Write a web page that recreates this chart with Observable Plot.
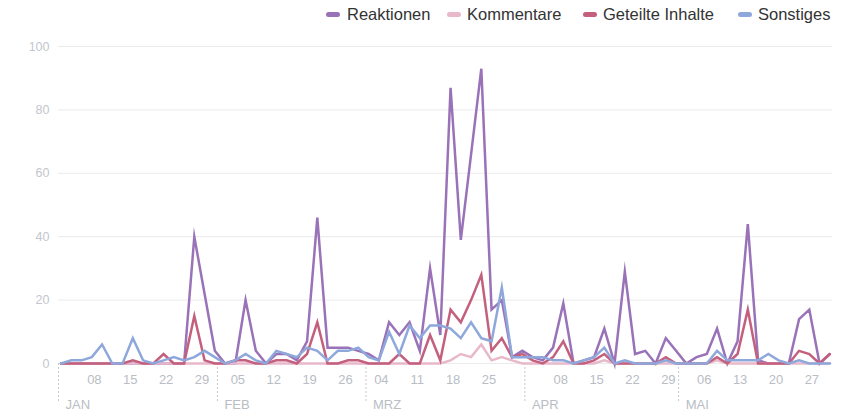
<!DOCTYPE html>
<html><head><meta charset="utf-8">
<script src="https://cdn.jsdelivr.net/npm/d3@7"></script>
<script src="https://cdn.jsdelivr.net/npm/@observablehq/plot@0.6"></script>
<style>
body{margin:0;background:#fff;font-family:"Liberation Sans",Arial,sans-serif;}
#legend{height:30px;width:843px;position:relative;}
.sw{position:absolute;top:12px;width:14px;height:5px;border-radius:3px;}
.lt{position:absolute;top:5px;font-size:16.5px;line-height:19px;color:#333;white-space:nowrap;}
#chart svg{display:block;}
</style></head><body>
<div id="legend"></div>
<div id="chart"></div>
<script>
const seriesNames = ["Reaktionen","Kommentare","Geteilte Inhalte","Sonstiges"];
const seriesColors = ["#9a72b8","#e8b8cb","#c3607d","#8ea8dc"];
// values every second day, starting 1 Jan 2020
const reaktionen = [0,0,0,0,0,0,0,0,0,0,0,0,0,40,22,4,0,0,20,4,0,3,3,1,7,46,5,5,5,4,3,1,13,9,13,4,30,9,87,39,66,93,17,20,2,4,2,1,5,19,0,1,2,11,0,29,3,4,0,8,4,0,2,3,11,0,7,44,1,0,0,0,14,17,0,3];
const kommentare = [0,0,0,0,0,0,0,0,0,0,0,0,0,0,0,0,0,0,0,0,0,0,0,0,0,0,0,0,0,0,0,0,0,0,0,0,0,0,1,3,2,6,1,2,1,0,0,0,0,0,0,0,0,1,0,0,0,0,0,0,0,0,0,0,1,0,0,0,0,0,0,0,0,0,0,0];
const geteilte = [0,0,0,0,0,0,0,1,0,0,3,0,0,15,1,0,0,1,1,0,0,1,1,0,3,13,0,0,1,1,0,0,0,3,0,0,9,1,17,13,20,28,4,8,2,3,1,0,2,7,0,0,1,3,0,0,0,0,0,2,0,0,0,0,2,0,3,17,0,0,0,0,4,3,0,3];
const sonstiges = [0,1,1,2,6,0,0,8,1,0,1,2,1,2,4,2,0,1,3,1,0,4,3,2,5,4,1,4,4,5,2,1,10,3,12,8,12,12,11,8,13,8,7,24,2,2,2,2,1,1,0,1,2,5,0,1,0,0,0,1,0,0,0,0,4,1,1,1,1,3,1,0,1,0,0,0];
const yTicks = [0,20,40,60,80,100];
const dayTicks = ["2020-01-08","2020-01-15","2020-01-22","2020-01-29","2020-02-05","2020-02-12","2020-02-19","2020-02-26","2020-03-04","2020-03-11","2020-03-18","2020-03-25","2020-04-08","2020-04-15","2020-04-22","2020-04-29","2020-05-06","2020-05-13","2020-05-20","2020-05-27"];
const monthStarts = ["2020-01-01","2020-02-01","2020-03-01","2020-04-01","2020-05-01"];
const monthLabels = ["JAN","FEB","MRZ","APR","MAI"];
const legendSwatchX = [326, 447, 583, 738];
const legendTextX = [347, 467, 603, 758];

const seriesValues = [reaktionen, kommentare, geteilte, sonstiges];
const rows = [];
seriesValues.forEach((vals, s) => vals.forEach((v, k) => rows.push({series: seriesNames[s], date: new Date(Date.UTC(2020, 0, 1 + 2 * k, 12)), value: v})));
const utc = s => new Date(s + "T00:00:00Z");
const grid = yTicks.map(y => ({y, x1: utc("2020-01-01"), x2: utc("2020-05-31")}));
const months = monthStarts.map((m, i) => ({date: utc(m), label: monthLabels[i]}));
const ticks = dayTicks.map(d => ({date: utc(d), label: d.slice(8)}));

const lg = document.getElementById("legend");
seriesNames.forEach((n, i) => {
  const sw = document.createElement("div"); sw.className = "sw";
  sw.style.background = seriesColors[i]; sw.style.left = legendSwatchX[i] + "px";
  const t = document.createElement("div"); t.className = "lt"; t.textContent = n;
  t.style.left = legendTextX[i] + "px";
  lg.appendChild(sw); lg.appendChild(t);
});

const chart = Plot.plot({
  width: 843, height: 386,
  marginLeft: 58, marginRight: 6, marginTop: 16, marginBottom: 53,
  style: {fontFamily: "'Liberation Sans', Arial, sans-serif", background: "#fff"},
  x: {type: "utc", domain: [utc("2020-01-01"), utc("2020-06-01")], axis: null},
  y: {domain: [0, 100], axis: null},
  color: {domain: seriesNames, range: seriesColors},
  marks: [
    Plot.ruleY(grid, {y: "y", x1: "x1", x2: "x2", stroke: "#ebebeb", strokeWidth: 1}),
    Plot.text(yTicks, {y: d => d, frameAnchor: "left", dx: -9, textAnchor: "end", fill: "#c2c6ce", fontSize: 12.5, text: d => String(d)}),
    Plot.ruleX(months, {x: "date", y1: 0, y2: -12, stroke: "#c8c8c8", strokeDasharray: "2,2", strokeWidth: 1}),
    Plot.text(ticks, {x: "date", frameAnchor: "bottom", dy: 20, text: "label", fill: "#b9bdc5", fontSize: 13}),
    Plot.text(months, {x: "date", frameAnchor: "bottom", dy: 45, dx: 7, textAnchor: "start", text: "label", fill: "#b9bdc5", fontSize: 13}),
    Plot.line(rows, {x: "date", y: "value", z: "series", stroke: "series", strokeWidth: 2.5, strokeLinejoin: "miter", strokeMiterlimit: 10})
  ]
});
document.getElementById("chart").appendChild(chart);
</script>
</body></html>
